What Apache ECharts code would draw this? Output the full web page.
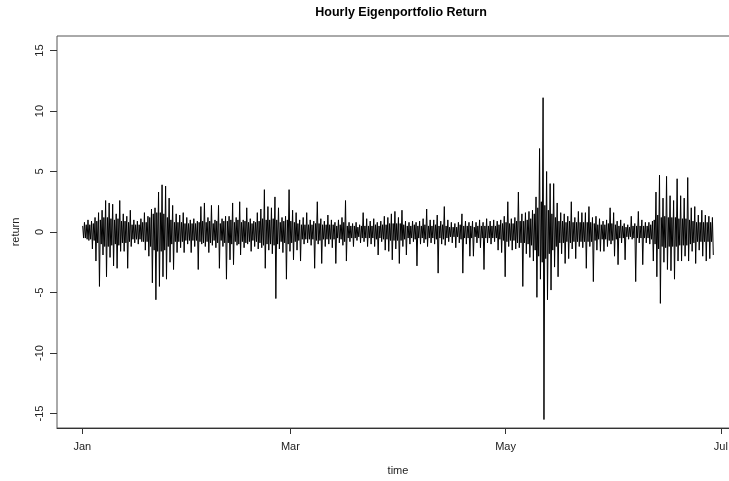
<!DOCTYPE html>
<html>
<head>
<meta charset="utf-8">
<script src="https://cdn.jsdelivr.net/npm/echarts@6/dist/echarts.min.js"></script>
<style>
  html, body { margin: 0; padding: 0; background: #fff; overflow: hidden; }
  #chart { width: 740px; height: 481px; }
</style>
</head>
<body>
<div id="chart"></div>
<script>
// Daily high / low of the hourly eigenportfolio return, day 0 = Jan 1.
var dayHigh = [
  0.8, 1.0, 0.9, 1.2, 1.6, 1.8, 2.6, 2.4, 2.3, 1.5,
  2.6, 1.5, 1.3, 1.8, 1.0, 0.9, 1.1, 1.6, 1.3, 1.9,
  2.0, 3.3, 3.9, 3.8, 2.8, 2.2, 1.5, 1.4, 1.6, 1.2,
  1.0, 1.1, 0.9, 2.1, 2.4, 1.2, 2.2, 1.0, 2.2, 1.1,
  1.3, 1.3, 2.4, 1.2, 2.5, 1.0, 2.0, 1.1, 0.9, 1.6,
  1.9, 3.5, 2.1, 2.0, 2.9, 2.0, 1.2, 1.3, 3.5, 1.8,
  1.6, 1.0, 1.2, 1.6, 1.0, 0.9, 2.5, 1.1, 0.9, 1.4,
  1.0, 0.8, 1.0, 1.2, 2.6, 0.8, 0.7, 0.8, 0.6, 1.6,
  1.1, 0.9, 1.1, 0.8, 0.9, 1.3, 1.2, 1.5, 1.7, 1.2,
  1.8, 0.9, 0.8, 0.9, 0.8, 0.9, 1.1, 1.9, 1.0, 1.0,
  1.4, 0.9, 2.1, 1.0, 0.8, 0.7, 0.8, 1.5, 0.9, 0.8,
  0.9, 0.8, 1.0, 0.8, 1.1, 0.9, 1.0, 0.9, 1.0, 1.3,
  2.5, 1.1, 1.2, 3.3, 1.5, 1.6, 1.7, 1.8, 2.9, 6.9,
  11.1, 5.0, 4.0, 4.0, 2.4, 1.6, 1.5, 1.3, 2.5, 1.2,
  1.7, 1.6, 1.6, 2.1, 1.2, 1.3, 1.1, 0.9, 1.0, 2.0,
  1.6, 0.9, 1.0, 0.7, 0.6, 1.3, 0.7, 1.7, 1.0, 0.8,
  0.8, 0.9, 3.3, 4.7, 2.8, 4.6, 3.0, 2.6, 4.4, 3.0,
  2.8, 4.5, 2.0, 2.1, 1.4, 1.8, 1.4, 1.3, 1.2
];
var dayLow = [
  -0.5, -0.7, -1.4, -2.4, -4.5, -1.9, -3.7, -2.1, -2.8, -3.0,
  -1.6, -1.6, -3.0, -1.2, -0.9, -1.0, -0.8, -1.5, -2.0, -4.2,
  -5.6, -4.5, -3.7, -3.9, -2.5, -3.1, -1.7, -1.3, -1.7, -1.0,
  -1.7, -1.2, -3.1, -1.0, -1.2, -1.7, -1.1, -1.3, -3.0, -1.2,
  -3.9, -2.3, -2.7, -1.1, -1.9, -1.3, -1.0, -1.6, -1.2, -1.4,
  -1.3, -3.0, -1.5, -1.8, -5.5, -1.4, -1.7, -3.9, -1.6, -2.3,
  -1.5, -2.4, -1.0, -0.9, -1.1, -3.0, -1.0, -2.6, -1.2, -1.0,
  -1.3, -2.6, -0.9, -1.1, -2.4, -0.8, -1.2, -0.7, -0.9, -0.8,
  -1.2, -1.0, -1.2, -1.9, -0.8, -1.5, -1.6, -2.3, -1.4, -2.6,
  -1.2, -1.9, -1.0, -0.8, -2.8, -1.0, -0.9, -1.2, -0.9, -1.0,
  -3.4, -1.0, -1.1, -0.8, -0.9, -1.3, -0.9, -3.4, -1.0, -2.0,
  -2.0, -0.9, -1.3, -3.1, -0.9, -1.0, -0.8, -1.5, -1.7, -3.7,
  -1.2, -1.5, -1.4, -1.3, -4.5, -1.8, -2.1, -2.4, -5.4, -3.9,
  -15.5, -5.6, -4.8, -2.9, -3.7, -1.8, -2.6, -2.2, -1.4, -2.2,
  -1.2, -1.3, -3.0, -1.2, -4.1, -1.5, -1.6, -1.6, -1.2, -1.0,
  -2.0, -2.7, -0.9, -2.3, -0.6, -0.6, -4.1, -0.9, -2.7, -0.9,
  -1.0, -2.4, -3.7, -5.9, -2.5, -3.1, -3.2, -3.9, -2.4, -2.4,
  -2.0, -2.4, -1.6, -2.6, -1.5, -2.0, -2.4, -2.2, -1.9
];
// Half-height of the dense band of ordinary hourly moves on each day.
var dayBand = [
  0.5, 0.6, 0.6, 0.7, 0.9, 1.0, 1.2, 1.2, 1.1, 1.0,
  1.1, 0.9, 0.9, 0.8, 0.6, 0.6, 0.6, 0.8, 0.8, 1.2,
  1.5, 1.6, 1.6, 1.5, 1.2, 1.0, 0.8, 0.8, 0.8, 0.7,
  0.7, 0.7, 0.7, 0.8, 0.9, 0.8, 0.9, 0.7, 0.9, 0.7,
  0.9, 0.9, 1.0, 0.8, 1.0, 0.8, 0.9, 0.8, 0.7, 0.8,
  0.9, 1.1, 1.0, 1.0, 1.1, 1.0, 0.8, 0.9, 1.0, 0.9,
  0.8, 0.7, 0.6, 0.6, 0.6, 0.6, 0.7, 0.7, 0.6, 0.6,
  0.6, 0.6, 0.5, 0.6, 0.8, 0.5, 0.5, 0.5, 0.4, 0.5,
  0.5, 0.5, 0.5, 0.6, 0.5, 0.6, 0.6, 0.7, 0.7, 0.7,
  0.7, 0.6, 0.5, 0.5, 0.6, 0.5, 0.5, 0.6, 0.5, 0.5,
  0.6, 0.5, 0.6, 0.5, 0.4, 0.4, 0.4, 0.6, 0.5, 0.5,
  0.5, 0.4, 0.5, 0.5, 0.5, 0.5, 0.5, 0.5, 0.6, 0.7,
  0.8, 0.7, 0.7, 0.9, 0.9, 0.9, 1.0, 1.1, 1.5, 2.0,
  2.5, 2.2, 1.8, 1.5, 1.2, 0.9, 0.9, 0.8, 0.9, 0.8,
  0.8, 0.8, 0.8, 0.8, 0.8, 0.7, 0.6, 0.6, 0.6, 0.7,
  0.7, 0.6, 0.5, 0.5, 0.4, 0.4, 0.5, 0.5, 0.5, 0.5,
  0.5, 0.6, 1.0, 1.4, 1.2, 1.3, 1.2, 1.2, 1.2, 1.1,
  1.1, 1.1, 1.0, 0.9, 0.8, 0.8, 0.8, 0.8, 0.8
];

// Axis ticks: days since Jan 1 for the month marks, and return levels.
var monthDays = [0, 59, 120, 181];
var monthLabels = ['Jan', 'Mar', 'May', 'Jul'];
var returnTicks = [-15, -10, -5, 0, 5, 10, 15];

// Each day is traced as: top of band, bottom of band, daily high, daily low.
var trace = [];
for (var d = 0; d < dayHigh.length; d++) {
  trace.push([d + 0.125, dayBand[d]]);
  trace.push([d + 0.375, -dayBand[d]]);
  trace.push([d + 0.625, dayHigh[d]]);
  trace.push([d + 0.875, dayLow[d]]);
}

var chart = echarts.init(document.getElementById('chart'), null, { renderer: 'canvas' });
var font = 'Liberation Sans, Arial, Helvetica, sans-serif';

chart.setOption({
  animation: false,
  backgroundColor: '#ffffff',
  graphic: [{
    type: 'text',
    x: 401,
    y: 13,
    style: {
      text: 'Hourly Eigenportfolio Return',
      font: 'bold 12.5px ' + font,
      fill: '#000',
      textAlign: 'center',
      textVerticalAlign: 'middle'
    }
  }],
  grid: {
    left: 57,
    top: 36,
    right: 1,
    bottom: 51,
    show: true,
    borderColor: '#555',
    borderWidth: 1,
    backgroundColor: 'transparent'
  },
  xAxis: {
    type: 'value',
    min: -7.16,
    max: 186.16,
    name: 'time',
    nameLocation: 'middle',
    nameGap: 37,
    nameTextStyle: { fontFamily: font, fontSize: 11, color: '#222' },
    axisLine: { show: true, onZero: false, lineStyle: { color: '#333', width: 1 } },
    splitLine: { show: false },
    axisTick: {
      show: true,
      length: 6,
      inside: false,
      customValues: monthDays,
      lineStyle: { color: '#333', width: 1 }
    },
    axisLabel: {
      customValues: monthDays,
      margin: 13,
      fontFamily: font,
      fontSize: 11,
      color: '#222',
      formatter: function (v) {
        var i = monthDays.indexOf(v);
        return i >= 0 ? monthLabels[i] : '';
      }
    }
  },
  yAxis: {
    type: 'value',
    min: -16.2,
    max: 16.2,
    name: 'return',
    nameLocation: 'middle',
    nameGap: 36,
    nameRotate: 90,
    nameTextStyle: { fontFamily: font, fontSize: 11, color: '#222' },
    axisLine: { show: false, onZero: false },
    splitLine: { show: false },
    axisTick: {
      show: true,
      length: 7,
      customValues: returnTicks,
      lineStyle: { color: '#333', width: 1 }
    },
    axisLabel: {
      customValues: returnTicks,
      rotate: 90,
      margin: 12,
      fontFamily: font,
      fontSize: 11,
      color: '#222'
    }
  },
  series: [{
    type: 'line',
    data: trace,
    showSymbol: false,
    symbol: 'none',
    sampling: null,
    lineStyle: { color: '#000', width: 1 },
    silent: true
  }]
});
</script>
</body>
</html>
